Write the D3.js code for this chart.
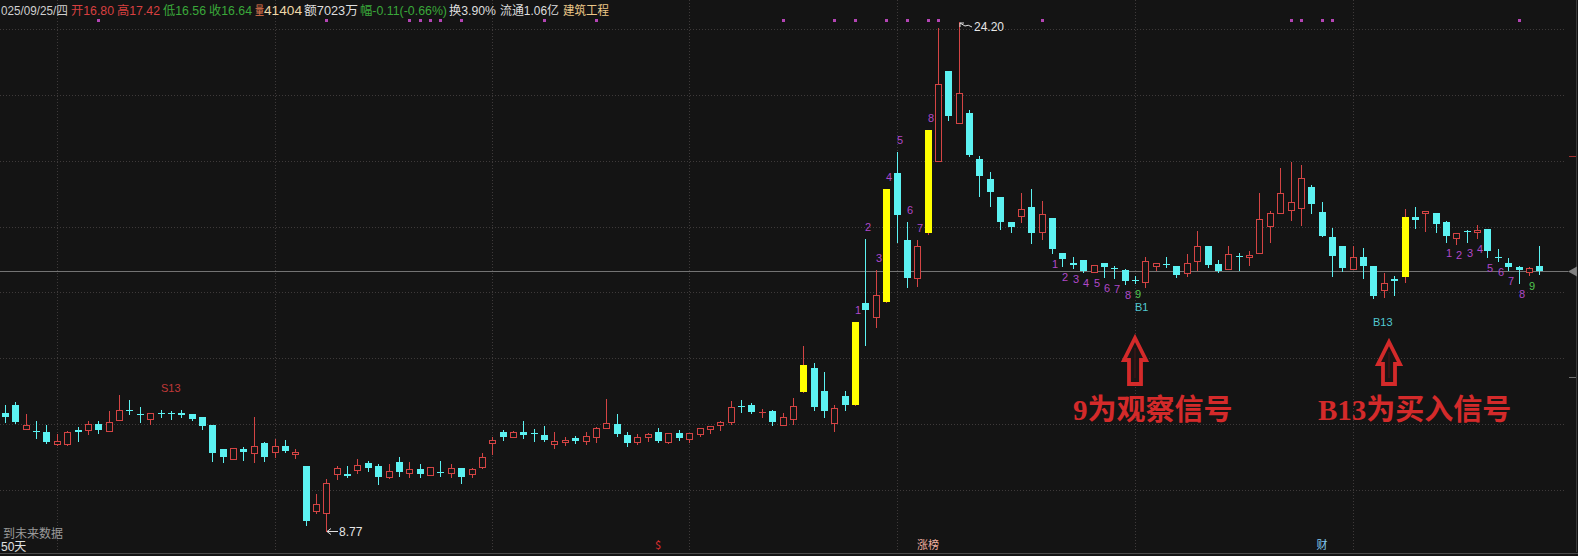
<!DOCTYPE html>
<html><head><meta charset="utf-8">
<script src="https://cdn.jsdelivr.net/npm/d3@7"></script>
<style>html,body{margin:0;padding:0;background:#151515;overflow:hidden}</style>
</head><body><svg id="c" width="1578" height="556"></svg>
<script>
// ---------- DATA ----------
const opens=[12.33,12.57,11.86,11.80,11.75,11.40,11.40,11.82,11.82,11.99,
11.78,12.13,12.43,12.31,12.16,12.34,12.34,12.33,12.31,12.23,
11.96,11.24,10.94,11.24,11.11,11.42,11.14,11.35,11.09,10.73,
9.36,9.31,10.50,10.48,10.60,10.81,10.73,10.38,10.84,10.51,
10.63,10.46,10.56,10.53,10.66,10.48,10.70,11.42,11.75,11.62,
11.75,11.72,11.68,11.40,11.45,11.58,11.50,11.62,11.88,11.99,
11.68,11.45,11.60,11.77,11.45,11.72,11.55,11.70,11.86,11.96,
12.06,12.54,12.57,12.34,12.39,11.96,12.16,12.97,13.69,13.02,
12.03,12.84,12.57,15.67,15.26,15.72,19.62,17.60,16.43,17.81,
20.00,22.71,21.14,21.45,20.05,19.44,18.91,18.13,18.32,18.60,
17.83,18.27,17.20,16.89,16.99,16.61,16.89,16.74,16.69,16.38,
16.33,16.79,16.86,16.79,16.59,16.94,17.42,16.87,16.71,17.12,
17.08,17.20,18.01,18.42,18.50,18.57,19.21,18.45,17.69,17.42,
16.71,17.08,16.81,16.06,16.41,16.48,18.30,18.40,18.40,18.13,
17.66,17.88,17.83,17.93,17.08,16.89,16.77,16.61,16.80];
const highs=[12.57,12.67,12.31,12.11,11.96,11.70,11.80,11.90,12.11,12.11,
12.41,12.90,12.72,12.51,12.34,12.43,12.41,12.43,12.31,12.23,
11.96,11.24,11.29,11.31,12.21,11.47,11.55,11.52,11.24,10.73,
9.87,10.33,10.73,10.73,10.94,10.89,10.79,10.79,10.99,10.84,
10.79,10.70,10.87,10.79,10.66,10.66,11.11,11.60,11.82,11.78,
12.09,11.86,11.93,11.75,11.62,11.65,11.75,11.90,12.77,12.31,
11.75,11.70,11.72,11.88,11.72,11.82,11.73,11.88,11.94,12.09,
12.69,12.72,12.64,12.47,12.43,12.34,12.80,14.37,13.86,13.58,
12.57,13.00,15.11,17.63,16.69,19.13,20.27,18.15,17.58,20.93,
24.02,22.71,24.20,21.55,20.15,19.67,18.91,18.13,19.03,19.13,
18.77,18.27,17.20,17.09,16.99,16.84,16.89,16.81,16.71,16.51,
17.09,16.89,17.08,16.79,17.18,17.86,17.42,16.99,17.42,17.20,
17.25,19.03,18.47,19.79,19.97,19.86,19.25,18.76,17.96,17.42,
17.40,17.35,16.81,16.59,16.51,18.54,18.60,18.47,18.40,18.16,
17.81,17.91,18.06,17.93,17.32,17.05,16.79,16.77,17.42];
const lows=[12.06,12.03,11.86,11.58,11.42,11.38,11.38,11.50,11.70,11.72,
11.78,12.13,12.31,12.06,12.01,12.21,12.16,12.23,12.13,11.86,
10.89,10.84,10.94,10.92,10.84,10.87,11.01,11.14,10.97,8.93,
9.31,8.77,10.33,10.38,10.53,10.58,10.18,10.36,10.43,10.38,
10.40,10.46,10.43,10.40,10.20,10.38,10.68,11.09,11.52,11.60,
11.58,11.50,11.50,11.29,11.38,11.42,11.40,11.45,11.88,11.65,
11.35,11.40,11.50,11.45,11.42,11.52,11.45,11.65,11.73,11.82,
11.99,12.36,12.33,12.23,11.96,11.96,12.01,12.97,12.43,12.21,
11.78,12.43,12.57,14.40,14.96,15.72,17.52,16.18,16.20,17.76,
20.00,21.25,21.14,20.15,18.94,18.62,17.94,17.83,18.15,17.50,
17.63,17.20,16.81,16.74,16.61,16.61,16.48,16.43,16.25,16.30,
16.18,16.69,16.77,16.48,16.51,16.69,16.77,16.61,16.71,16.69,
16.84,17.20,17.52,18.42,18.21,18.06,18.42,17.71,16.51,16.64,
16.71,16.43,15.82,15.87,15.93,16.33,17.96,17.86,17.83,17.52,
17.48,17.52,17.66,17.08,16.94,16.67,16.30,16.54,16.56];
const closes=[12.21,12.08,11.96,11.75,11.45,11.50,11.75,11.75,11.99,11.82,
12.06,12.43,12.41,12.27,12.34,12.31,12.33,12.29,12.16,11.93,
11.11,11.01,11.29,11.14,11.35,10.99,11.35,11.17,11.16,9.05,
9.58,10.22,10.66,10.44,10.76,10.68,10.38,10.58,10.56,10.63,
10.50,10.70,10.52,10.68,10.40,10.63,11.01,11.52,11.60,11.75,
11.68,11.70,11.52,11.50,11.52,11.50,11.65,11.88,12.03,11.70,
11.42,11.62,11.70,11.50,11.72,11.58,11.73,11.88,11.94,12.06,
12.51,12.51,12.38,12.38,12.06,12.23,12.54,13.79,12.51,12.39,
12.50,12.57,15.11,15.47,15.93,19.13,18.34,16.45,17.42,20.93,
22.33,21.37,22.05,20.18,19.54,19.05,18.15,17.98,18.52,17.81,
18.37,17.33,17.02,16.84,16.64,16.84,16.77,16.71,16.35,16.35,
16.94,16.89,16.82,16.54,16.89,17.40,16.84,16.64,17.18,17.08,
17.15,18.24,18.40,19.03,18.76,19.46,18.70,17.71,17.12,16.74,
17.09,16.79,15.89,16.30,16.36,18.30,18.19,18.47,18.09,17.71,
17.81,17.86,17.89,17.25,17.05,16.77,16.69,16.75,16.64];
const yellowIdx=[77,82,85,89,135];
const dotIdx=[9,31,39,40,41,42,44,52,57,75,80,82,85,87,89,90,100,124,125,127,128,146];
const gridPrices=[10,12,14,16,18,20,22,24];
const monthIdx=[5,26,47,66,86,109,130];
const upCountIdx=[82,83,84,85,86,87,88,89];
const upCountLbl=["1","2","3","4","5","6","7","8"];
const dnCountIdx1=[101,102,103,104,105,106,107,108,109];
const dnCountIdx2=[139,140,141,142,143,144,145,146,147];
const dnCountLbl=["1","2","3","4","5","6","7","8","9"];
const buyIdx=[109,132], buyLbl=["B1","B13"];
const sellIdx=[15], sellLbl=["S13"];
const hiIdx=92, loIdx=31;
const headerParts=[
 {t:"025/09/25/四",x0:1,x1:68,c:"#cfcfcf"},
 {t:"开16.80",x0:71,x1:114,c:"#d84040"},
 {t:"高17.42",x0:117,x1:160,c:"#d84040"},
 {t:"低16.56",x0:163,x1:206,c:"#3aa83a"},
 {t:"收16.64",x0:209,x1:252,c:"#3aa83a"},
 {t:"量",x0:255,x1:264,c:"#e07850"},
 {t:"41404",x0:264,x1:302,c:"#eed8a8"},
 {t:"额7023万",x0:304,x1:358,c:"#dedede"},
 {t:"幅-0.11(-0.66%)",x0:360,x1:447,c:"#3aa83a"},
 {t:"换3.90%",x0:449,x1:496,c:"#dedede"},
 {t:"流通1.06亿",x0:500,x1:559,c:"#dedede"},
 {t:"建筑工程",x0:563,x1:609,c:"#ecc888"}];
const bottomTagIdx=[63,89,127], bottomTagLbl=["$","涨榜","财"], bottomTagCol=["#e03030","#f0b0a0","#80c8f0"];
const note1="9为观察信号", note2="B13为买入信号";

// ---------- SETUP ----------
const N=closes.length;
const BG="#141414", RED="#d44444", CYAN="#5cf2f2", YEL="#ffff00";
const svg=d3.select("#c");
svg.append("rect").attr("width",1578).attr("height",556).attr("fill",BG);
const x=d3.scaleBand().domain(d3.range(N)).range([-0.18,1544.5]).paddingInner(0.3).paddingOuter(0.15);
const cx=i=>Math.round(x(i)+x.bandwidth()/2);
const y=d3.scaleLinear().domain([10,24]).range([490,29]);
const yr=v=>Math.round(y(v));

// grid
const grid=svg.append("g").attr("stroke","#3e3a3a").attr("stroke-dasharray","1,2").attr("stroke-width",1);
gridPrices.forEach(p=>grid.append("line").attr("x1",0).attr("x2",1566).attr("y1",yr(p)+0.5).attr("y2",yr(p)+0.5));
monthIdx.forEach(i=>grid.append("line").attr("x1",cx(i)+0.5).attr("x2",cx(i)+0.5).attr("y1",0).attr("y2",552));

// right axis
svg.append("line").attr("x1",1576.5).attr("x2",1576.5).attr("y1",0).attr("y2",552).attr("stroke","#3a3a3a");
svg.append("line").attr("x1",1569).attr("x2",1576).attr("y1",156.5).attr("y2",156.5).attr("stroke","#a03030");
svg.append("line").attr("x1",1569).attr("x2",1576).attr("y1",377.5).attr("y2",377.5).attr("stroke","#707070");
// bottom line
svg.append("line").attr("x1",0).attr("x2",1578).attr("y1",553.5).attr("y2",553.5).attr("stroke","#4a4a4a");

// last close line
const lastY=yr(closes[N-1])+0.5;
svg.append("line").attr("x1",0).attr("x2",1568).attr("y1",lastY).attr("y2",lastY).attr("stroke","#747474");
svg.append("path").attr("d",`M1568,${lastY} L1577,${lastY-5} L1577,${lastY+5} Z`).attr("fill","#808080");

// candles
const cg=svg.append("g").attr("shape-rendering","crispEdges");
d3.range(N).forEach(i=>{
  const c=cx(i),o=opens[i],cl=closes[i];
  const up=cl>=o, yel=yellowIdx.includes(i);
  const col=(up||yel)?RED:CYAN;
  const top=yr(Math.max(o,cl)), bot=yr(Math.min(o,cl));
  cg.append("line").attr("x1",c+0.5).attr("x2",c+0.5).attr("y1",yr(highs[i])).attr("y2",yr(lows[i])+1).attr("stroke",col);
  const h=bot-top;
  if(yel){
    cg.append("rect").attr("x",c-3).attr("y",top).attr("width",7).attr("height",Math.max(1,h)).attr("fill",YEL);
  } else if(!up){
    cg.append("rect").attr("x",c-3).attr("y",top).attr("width",7).attr("height",Math.max(1,h)).attr("fill",CYAN);
  } else if(h<=1){
    cg.append("rect").attr("x",c-3).attr("y",top).attr("width",7).attr("height",1).attr("fill",RED);
  } else {
    cg.append("rect").attr("x",c-2.5).attr("y",top+0.5).attr("width",6).attr("height",h).attr("fill",BG).attr("stroke",RED);
  }
});

// top dots
dotIdx.forEach(i=>svg.append("rect").attr("x",cx(i)-1).attr("y",19).attr("width",3).attr("height",3).attr("fill","#b444b4"));

// counts
const lab=svg.append("g").attr("font-family","Liberation Sans, Arial, sans-serif").attr("font-size",11);
upCountIdx.forEach((i,k)=>lab.append("text").attr("x",cx(i)).attr("y",yr(highs[i])-8).attr("fill","#b048c8").text(upCountLbl[k]));
[dnCountIdx1,dnCountIdx2].forEach(arr=>arr.forEach((i,k)=>lab.append("text").attr("x",cx(i)).attr("y",yr(lows[i])+15)
   .attr("fill",dnCountLbl[k]==="9"?"#50c850":"#b048c8").text(dnCountLbl[k])));
buyIdx.forEach((i,k)=>lab.append("text").attr("x",cx(i)).attr("y",yr(lows[i])+28).attr("fill","#52c8d2").text(buyLbl[k]));
sellIdx.forEach((i,k)=>lab.append("text").attr("x",cx(i)).attr("y",yr(highs[i])-18).attr("fill","#c03838").text(sellLbl[k]));

// high / low markers
{
 const hx=cx(hiIdx)+1, hy=yr(highs[hiIdx]);
 svg.append("path").attr("d",`M${hx},${hy+1} L${hx+5},${hy+4} M${hx},${hy+1} L${hx},${hy+5} M${hx},${hy+1} L${hx+4},${hy+1} M${hx+5},${hy+4} Q${hx+8},${hy+2} ${hx+12},${hy+5}`)
   .attr("stroke","#e0e0e0").attr("fill","none");
 lab.append("text").attr("x",hx+14).attr("y",hy+9).attr("fill","#e6e6e6").attr("font-size",12).text(highs[hiIdx].toFixed(2));
 const lx=cx(loIdx)+1, ly=yr(lows[loIdx])+0.5;
 svg.append("path").attr("d",`M${lx},${ly} L${lx+11},${ly} M${lx},${ly} L${lx+4},${ly-3} M${lx},${ly} L${lx+4},${ly+3}`)
   .attr("stroke","#e0e0e0").attr("fill","none");
 lab.append("text").attr("x",lx+12).attr("y",ly+4).attr("fill","#e6e6e6").attr("font-size",12).text(lows[loIdx].toFixed(2));
}

// header
const hd=svg.append("g").attr("font-family","Liberation Sans, 'Noto Sans CJK SC', sans-serif").attr("font-size",12);
headerParts.forEach(p=>hd.append("text").attr("x",p.x0).attr("y",15).attr("fill",p.c)
  .attr("textLength",p.x1-p.x0).attr("lengthAdjust","spacingAndGlyphs").text(p.t));

// bottom-left texts
hd.append("text").attr("x",3).attr("y",538).attr("fill","#9a9a9a").attr("font-family","'Noto Sans CJK SC', sans-serif").text("到未来数据");
hd.append("text").attr("x",1).attr("y",551).attr("fill","#e0e0e0").text("50天");
// bottom tags
bottomTagIdx.forEach((i,k)=>hd.append("text").attr("x",cx(i)).attr("y",549).attr("text-anchor","middle")
  .attr("fill",bottomTagCol[k]).attr("font-size",11).attr("font-family","'Noto Sans CJK SC', sans-serif").text(bottomTagLbl[k]));

// annotation arrows + notes
function arrow(ax,tip,bottom){
  svg.append("path").attr("d",`M${ax},${tip} L${ax+11},${tip+22} L${ax+6},${tip+22} L${ax+6},${bottom} L${ax-6},${bottom} L${ax-6},${tip+22} L${ax-11},${tip+22} Z`)
    .attr("fill","#1c1414").attr("stroke","#d42a2a").attr("stroke-width",3.8).attr("stroke-linejoin","miter");
  svg.append("line").attr("x1",ax).attr("x2",ax).attr("y1",tip+10).attr("y2",bottom-6).attr("stroke","#3a1616").attr("stroke-width",1.5);
}
const a1=cx(dnCountIdx1[8]), a2=cx(buyIdx[1])+16;
arrow(a1,338,384);
arrow(a2,342,384);
const nt=svg.append("g").attr("font-size",29).attr("font-weight","bold").attr("fill","#d42a2a").attr("font-family","'Liberation Serif', 'Noto Sans CJK SC', serif");
nt.append("text").attr("x",a1-62).attr("y",420).text(note1);
nt.append("text").attr("x",a2-71).attr("y",420).text(note2);
</script></body></html>
